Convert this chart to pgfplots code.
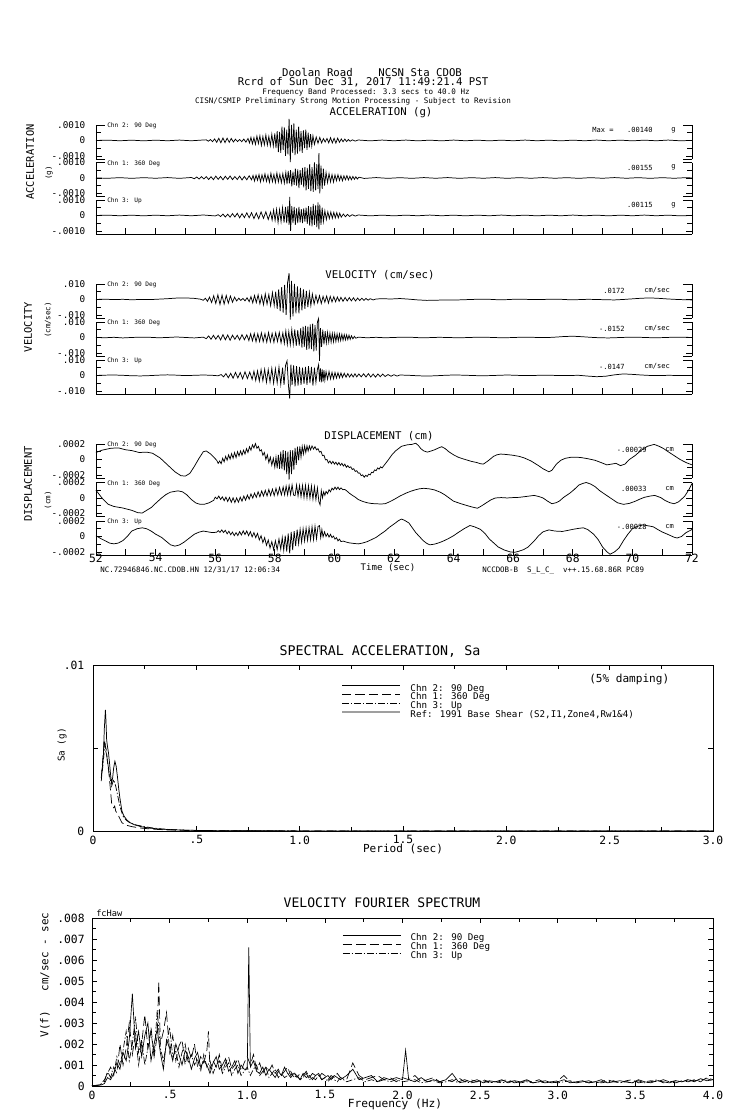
\documentclass[border=0pt]{standalone}
\usepackage{fontspec}
\setmainfont{DejaVu Sans Mono}
\usepackage{pgfplots}
\pgfplotsset{compat=1.18}
\newcommand\fs[1]{\fontsize{#1}{#1}\selectfont}
\pgfplotsset{
  /pgf/number format/assume math mode=true,
  ts/.style={scale only axis, width=447pt, height=25.5pt, xmin=52, xmax=72, ymin=-12, ymax=10, clip=false,
    axis line style={line width=0.6pt}, tick style={black, line width=0.5pt},
    major tick length=4.5pt, minor tick length=3.5pt, tick align=inside,
    ytick={-10,0,10}, minor ytick={-5,5}, ytick pos=both, yticklabel pos=left,
    tick label style={font=\fs{7}}, yticklabel style={xshift=-4.5pt}},
  tstop/.style={ts, hide x axis},
  tsbot/.style={ts, axis x line*=bottom, x axis line style={-}, xtick={52,53,...,72}, tick align=inside, xticklabel=\mbox{}},
  tr/.style={black, line width=0.55pt},
  sp/.style={scale only axis, clip=false, axis line style={line width=0.6pt}, tick style={black, line width=0.5pt},
    major tick length=4pt, minor tick length=3pt, tick align=inside, xtick pos=both, ytick pos=both,
    xticklabel pos=left, yticklabel pos=left, tick label style={font=\fs{8.5}},
    legend style={draw=none, fill=none, inner sep=0pt, row sep=0pt, font=\fs{6.9},
      nodes={inner sep=0.6pt, text height=4.4pt, text depth=1pt}},
    legend cell align=left,
    legend image code/.code={\draw[##1] (0pt,2.2pt) -- (43.5pt,2.2pt); \path (50pt,2.2pt);}},
}
\begin{document}
\begin{tikzpicture}[x=0.75pt,y=-0.75pt]
\path[use as bounding box] (0,0) rectangle (739,1115);
% ---------------- ACCELERATION ----------------
\begin{axis}[tstop, at={(72pt,-93.75pt)}, anchor=north west, yticklabels={-.0010,0,.0010}]
\addplot[tr] coordinates {(52,0)(52.4,0.2)(52.8,-0.2)(53.2,0.2)(53.6,-0.25)(54.0,0.2)(54.4,-0.2)(54.8,0.25)(55.2,-0.2)(55.6,0.3)
(55.7,0.4)(55.77,-0.5)(55.84,0.6)(55.91,-0.8)(55.98,1.0)(56.05,-1.2)(56.12,1.4)(56.19,-1.5)(56.26,1.6)(56.33,-1.4)(56.40,1.5)(56.47,-1.2)(56.54,1.3)(56.61,-1.0)(56.68,0.8)(56.75,-0.7)(56.82,0.6)(56.89,-0.8)(56.96,0.9)(57.03,-1.1)(57.10,1.3)
(57.15,-1.6)(57.2,2.0)(57.25,-2.2)(57.3,1.8)(57.35,-2.5)(57.4,2.8)(57.45,-2.0)(57.5,3.0)(57.55,-3.2)(57.6,2.5)(57.65,-2.8)(57.7,3.5)(57.75,-3.0)(57.8,2.6)(57.85,-3.4)(57.9,4.0)(57.95,-3.6)(58.0,4.5)
(58.04,-5)(58.08,6)(58.12,-7.5)(58.16,5.5)(58.2,-8)(58.24,9)(58.28,-6)(58.32,8.5)(58.36,-10)(58.4,7)(58.44,-9)(58.48,14)(58.52,-14)(58.56,10)(58.6,-8)(58.64,11)(58.68,-9.5)(58.72,7)(58.76,-8.5)(58.8,9)(58.84,-7)(58.88,6)(58.92,-8)(58.96,6.5)(59.0,-5)(59.04,7)(59.08,-6)(59.12,5)(59.16,-4.5)(59.2,4)(59.24,-3.5)(59.28,3)
(59.33,-2.5)(59.39,2.2)(59.45,-1.8)(59.51,2.0)(59.57,-1.6)(59.63,1.2)(59.69,-1.0)(59.75,1.3)(59.81,-1.5)(59.87,1.8)(59.93,-1.6)(59.99,1.4)(60.05,-1.7)(60.11,1.5)(60.17,-1.2)(60.23,1.0)(60.29,-0.8)(60.35,0.9)(60.41,-0.7)(60.47,0.6)(60.53,-0.5)(60.6,0.4)(60.7,-0.4)(60.8,0.3)
(61.2,-0.25)(61.6,0.25)(62.0,-0.2)(62.4,0.25)(62.8,-0.25)(63.2,0.2)(63.6,-0.25)(64.0,0.25)(64.4,-0.2)(64.8,0.2)(65.2,-0.25)(65.6,0.2)(66.0,-0.2)(66.4,0.25)(66.8,-0.2)(67.2,0.2)(67.6,-0.25)(68.0,0.2)(68.4,-0.2)(68.8,0.25)(69.2,-0.2)(69.6,0.2)(70.0,-0.25)(70.4,0.2)(70.8,-0.2)(71.2,0.25)(71.6,-0.2)(72,0)};
\end{axis}
\begin{axis}[tstop, at={(72pt,-121.875pt)}, anchor=north west, yticklabels={-.0010,0,.0010}]
\addplot[tr] coordinates {(52,0)(52.4,-0.2)(52.8,0.2)(53.2,-0.25)(53.6,0.2)(54.0,-0.2)(54.4,0.25)(54.8,-0.25)(55.2,0.3)
(55.3,-0.5)(55.38,0.6)(55.46,-0.7)(55.54,0.8)(55.62,-0.6)(55.7,0.9)(55.78,-1.0)(55.86,0.8)(55.94,-1.1)(56.02,1.2)(56.1,-0.9)(56.18,1.0)(56.26,-1.2)(56.34,1.1)(56.42,-0.9)(56.5,1.3)(56.58,-1.1)(56.66,0.9)(56.74,-1.0)(56.82,1.2)(56.9,-1.3)(56.98,1.0)(57.06,-1.2)(57.14,1.4)(57.22,-1.2)
(57.27,1.6)(57.32,-2.0)(57.37,1.8)(57.42,-1.5)(57.47,2.2)(57.52,-2.5)(57.57,2.0)(57.62,-1.8)(57.67,2.6)(57.72,-2.2)(57.77,1.9)(57.82,-2.8)(57.87,3.0)(57.92,-2.4)(57.97,2.2)(58.02,-2.9)(58.07,3.2)(58.12,-2.6)(58.17,2.4)(58.22,-3.0)(58.27,2.8)(58.32,-3.3)(58.37,3.6)
(58.41,-4)(58.45,4.5)(58.49,-3.5)(58.53,5)(58.57,-5.5)(58.61,4)(58.65,-4.5)(58.69,6)(58.73,-5)(58.77,5.5)(58.81,-6.5)(58.85,5)(58.89,-4.5)(58.93,6.5)(58.97,-6)
(59.01,7)(59.05,-8)(59.09,6.5)(59.13,-7)(59.17,9)(59.21,-8.5)(59.25,7)(59.29,-9)(59.33,10)(59.37,-8)(59.41,9)(59.45,-7)(59.48,16)(59.51,-10)(59.55,8)(59.59,-7)(59.63,6)(59.67,-5)
(59.72,3.5)(59.77,-3)(59.82,2.8)(59.87,-2.5)(59.92,2.2)(59.97,-2.6)(60.02,2.0)(60.07,-1.8)(60.12,2.1)(60.17,-1.6)(60.22,1.5)(60.27,-1.8)(60.32,1.4)(60.37,-1.2)(60.42,1.5)(60.47,-1.3)(60.52,1.1)(60.57,-1.2)(60.62,1.0)(60.67,-0.9)(60.72,0.8)(60.77,-0.7)(60.82,0.5)
(61.0,-0.3)(61.4,0.25)(61.8,-0.25)(62.2,0.2)(62.6,-0.25)(63.0,0.25)(63.4,-0.2)(63.8,0.25)(64.2,-0.25)(64.6,0.2)(65.0,-0.2)(65.4,0.25)(65.8,-0.25)(66.2,0.2)(66.6,-0.2)(67.0,0.25)(67.4,-0.2)(67.8,0.2)(68.2,-0.25)(68.6,0.2)(69.0,-0.2)(69.4,0.25)(69.8,-0.2)(70.2,0.2)(70.6,-0.25)(71.0,0.2)(71.4,-0.2)(71.8,0.2)(72,0)};
\end{axis}
\begin{axis}[tsbot, at={(72pt,-150pt)}, anchor=north west, yticklabels={-.0010,0,.0010}]
\addplot[tr] coordinates {(52,0)(52.4,0.2)(52.8,-0.2)(53.2,0.2)(53.6,-0.25)(54.0,0.2)(54.4,-0.2)(54.8,0.25)(55.2,-0.2)(55.6,0.3)(56.0,-0.3)
(56.1,0.5)(56.18,-0.7)(56.26,0.9)(56.34,-1.0)(56.42,0.8)(56.5,-1.1)(56.58,1.2)(56.66,-1.0)(56.74,1.4)(56.82,-1.5)(56.9,1.2)(56.98,-1.4)(57.06,1.7)(57.14,-1.5)(57.22,1.8)(57.3,-2.0)(57.38,1.6)(57.46,-2.1)(57.54,2.3)(57.62,-1.9)(57.7,2.4)(57.78,-2.6)(57.86,2.2)
(57.91,-3)(57.96,3.5)(58.01,-3.2)(58.06,4)(58.11,-4.5)(58.16,3.8)(58.21,-4)(58.26,5)(58.31,-4.6)(58.36,5.5)(58.4,-5)(58.44,6)(58.48,-6)(58.5,12)(58.53,-10)(58.57,6)(58.61,-5)(58.65,5.5)(58.69,-6)(58.73,4.5)(58.77,-5)(58.81,5.5)(58.85,-4.5)(58.89,4)(58.93,-5)(58.97,4.5)(59.01,-4)(59.05,5)
(59.09,-5.5)(59.13,6)(59.17,-6.5)(59.21,5.5)(59.25,-7)(59.29,7.5)(59.33,-6)(59.37,6.5)(59.41,-7.5)(59.45,8.5)(59.48,-9)(59.51,7)(59.55,-6)(59.59,5)(59.63,-4)
(59.68,3)(59.73,-2.6)(59.78,2.4)(59.83,-2.0)(59.88,2.2)(59.93,-1.8)(59.98,2.0)(60.03,-1.6)(60.08,1.8)(60.13,-1.5)(60.18,1.4)(60.23,-1.1)(60.3,0.9)(60.37,-0.8)(60.44,0.7)(60.51,-0.6)(60.6,0.5)(60.7,-0.4)(60.8,0.3)
(61.2,-0.25)(61.6,0.2)(62.0,-0.25)(62.4,0.2)(62.8,-0.2)(63.2,0.25)(63.6,-0.2)(64.0,0.2)(64.4,-0.25)(64.8,0.2)(65.2,-0.2)(65.6,0.25)(66.0,-0.2)(66.4,0.2)(66.8,-0.25)(67.2,0.2)(67.6,-0.2)(68.0,0.25)(68.4,-0.2)(68.8,0.2)(69.2,-0.25)(69.6,0.2)(70.0,-0.2)(70.4,0.25)(70.8,-0.2)(71.2,0.2)(71.6,-0.25)(72,0)};
\end{axis}
% ---------------- VELOCITY ----------------
\begin{axis}[tstop, at={(72pt,-213pt)}, anchor=north west, yticklabels={-.010,0,.010}]
\addplot[tr] coordinates {(52,0)(52.3,0.2)(52.6,-0.1)(52.9,0.1)(53.2,-0.2)(53.5,0)(53.8,-0.1)(54.1,0.2)(54.4,0.5)(54.7,0.9)(55.0,1.0)(55.3,0.7)(55.5,0.2)
(55.6,-0.5)(55.67,0.8)(55.74,-1.2)(55.81,1.5)(55.88,-2.0)(55.95,2.4)(56.02,-2.6)(56.09,3.0)(56.16,-3.2)(56.23,2.8)(56.3,-3.0)(56.37,2.6)(56.44,-2.4)(56.51,2.2)(56.58,-1.8)(56.65,1.5)(56.72,-1.0)(56.79,0.8)(56.86,-0.6)(56.93,0.7)(57.0,-0.9)(57.07,1.1)(57.14,-1.4)
(57.2,1.8)(57.26,-2.2)(57.32,2.6)(57.38,-2.0)(57.44,3.0)(57.5,-2.8)(57.56,2.4)(57.62,-3.4)(57.68,3.6)(57.74,-3.0)(57.8,3.2)(57.86,-4.0)(57.92,4.4)(57.98,-3.8)
(58.03,5)(58.08,-6)(58.13,6.5)(58.18,-7.5)(58.23,8)(58.28,-8.5)(58.33,9.5)(58.38,-10)(58.43,11)(58.48,17)(58.52,-13)(58.56,12)(58.61,-11)(58.66,10)(58.71,-9)(58.76,8.5)(58.81,-9)(58.86,7.5)(58.91,-7)(58.96,6.5)(59.01,-6)(59.06,5.5)(59.11,-5)(59.16,4.5)(59.21,-4)(59.26,3.5)
(59.32,-3)(59.38,2.6)(59.44,-2.2)(59.5,2.4)(59.56,-2.6)(59.62,2.0)(59.68,-1.8)(59.74,2.2)(59.8,-2.4)(59.86,2.0)(59.92,-1.6)(59.98,1.8)(60.04,-1.5)(60.1,1.6)(60.16,-1.2)(60.22,1.4)
(60.29,-1.2)(60.36,1.3)(60.43,-1.0)(60.5,1.2)(60.57,-0.9)(60.64,1.1)(60.71,-1.0)(60.78,0.9)(60.85,-0.7)(60.92,0.8)(60.99,-0.6)(61.06,0.7)(61.13,-0.5)(61.2,0.5)(61.3,-0.3)(61.4,0.3)
(61.6,0.5)(61.9,0.3)(62.2,0.6)(62.5,0.2)(62.8,-0.3)(63.1,-0.6)(63.4,-0.5)(63.7,-0.3)(64.0,-0.4)(64.3,-0.2)(64.6,0)(64.9,0.2)(65.2,0.1)(65.5,-0.2)(65.8,-0.1)(66.1,0.2)(66.4,0.1)(66.7,-0.1)(67.0,0)(67.3,0.2)(67.6,0.1)(67.9,-0.2)(68.2,-0.1)(68.5,0.1)(68.8,0)(69.1,-0.2)(69.4,-0.3)(69.7,0)(70.0,0.4)(70.3,0.8)(70.6,1.0)(70.9,0.7)(71.2,0.3)(71.5,0)(71.8,-0.2)(72,-0.3)};
\end{axis}
\begin{axis}[tstop, at={(72pt,-241.5pt)}, anchor=north west, yticklabels={-.010,0,.010}]
\addplot[tr] coordinates {(52,0)(52.3,-0.2)(52.6,0.1)(52.9,-0.3)(53.2,0)(53.5,0.2)(53.8,0.1)(54.1,-0.2)(54.4,0)(54.7,0.3)(55.0,0)(55.3,-0.3)(55.6,0.2)
(55.7,-0.8)(55.78,1.0)(55.86,-1.2)(55.94,1.4)(56.02,-1.1)(56.1,1.3)(56.18,-1.6)(56.26,1.8)(56.34,-1.5)(56.42,1.6)(56.5,-1.8)(56.58,1.5)(56.66,-1.2)(56.74,1.4)(56.82,-1.6)(56.9,1.8)(56.98,-1.5)(57.06,1.7)
(57.13,-2.0)(57.19,2.4)(57.25,-2.2)(57.31,2.6)(57.37,-2.8)(57.43,2.4)(57.49,-2.6)(57.55,3.0)(57.61,-2.7)(57.67,2.5)(57.73,-3.0)(57.79,3.2)(57.85,-2.8)(57.91,2.6)(57.97,-3.2)(58.03,3.0)(58.09,-2.6)(58.15,3.3)(58.21,-3.5)(58.27,3.0)
(58.32,-3.8)(58.37,4.2)(58.42,-4.5)(58.47,3.8)(58.52,-4.6)(58.57,5.0)(58.62,-4.4)(58.67,5.2)(58.72,-5.5)(58.77,4.8)(58.82,-5.2)(58.87,6.0)
(58.91,-6.5)(58.95,7)(58.99,-6)(59.03,7.5)(59.07,-8)(59.11,7)(59.15,-7.5)(59.19,8.5)(59.23,-7.5)(59.27,9)(59.31,-9)(59.35,8)(59.39,-8.5)(59.43,10)(59.47,12.3)(59.5,-15.2)(59.53,6)(59.57,-6)(59.61,5)(59.65,-4.5)(59.69,4)
(59.73,-3.5)(59.77,3.2)(59.81,-3.0)(59.85,2.8)(59.89,-3.0)(59.93,2.6)(59.97,-2.8)(60.01,2.5)(60.05,-2.6)(60.09,2.4)(60.13,-2.2)(60.17,2.3)(60.21,-2.0)(60.25,2.1)(60.29,-1.8)(60.33,1.9)(60.37,-1.6)(60.41,1.7)(60.45,-1.4)(60.49,1.5)(60.53,-1.2)(60.57,1.1)(60.62,-0.9)(60.67,0.7)(60.72,-0.5)
(60.8,0.2)(61.1,-0.2)(61.4,0.1)(61.7,-0.2)(62.0,0)(62.3,0.2)(62.6,0.1)(62.9,-0.2)(63.2,-0.1)(63.5,0.1)(63.8,0)(64.1,-0.2)(64.4,-0.1)(64.7,0.1)(65.0,0.2)(65.3,0)(65.6,-0.2)(65.9,-0.1)(66.2,0.1)(66.5,0.2)(66.8,0)(67.1,-0.1)(67.4,0.2)(67.7,0.6)(68.0,0.8)(68.3,0.5)(68.6,0.1)(68.9,-0.2)(69.2,-0.3)(69.5,-0.1)(69.8,0.1)(70.1,0.2)(70.4,0)(70.7,-0.2)(71.0,-0.1)(71.3,0.1)(71.6,0.2)(72,0)};
\end{axis}
\begin{axis}[tsbot, at={(72pt,-270pt)}, anchor=north west, yticklabels={-.010,0,.010}]
\addplot[tr] coordinates {(52,0)(52.3,0.2)(52.6,0.3)(52.9,0.1)(53.2,-0.2)(53.5,-0.3)(53.8,-0.1)(54.1,0.2)(54.4,0.4)(54.7,0.2)(55.0,-0.1)(55.3,0.1)(55.6,0.3)(55.9,0.1)(56.1,-0.2)
(56.2,0.6)(56.28,-0.9)(56.36,1.2)(56.44,-1.5)(56.52,1.4)(56.6,-1.8)(56.68,2.0)(56.76,-1.6)(56.84,1.9)(56.92,-2.2)(57.0,2.4)(57.08,-2.0)(57.16,2.2)(57.24,-2.5)
(57.3,2.8)(57.36,-3.2)(57.42,3.0)(57.48,-3.6)(57.54,3.8)(57.6,-3.4)(57.66,4.0)(57.72,-4.4)(57.78,3.8)(57.84,-4.2)(57.9,4.6)(57.96,-5.0)(58.02,4.4)(58.08,-4.8)(58.14,5.4)(58.2,-5.8)(58.26,5.0)
(58.31,-6)(58.36,6.5)(58.41,9.4)(58.46,-7)(58.5,-15)(58.54,7)(58.58,-6)(58.63,6.5)(58.68,-7)(58.73,6)(58.78,-6.5)(58.83,5.5)(58.88,-6)(58.93,5)(58.98,-5.5)(59.03,5.5)(59.08,-6)(59.13,6)(59.18,-5)(59.23,5.5)(59.28,-6.5)(59.33,5)(59.38,-4.5)(59.43,4)(59.47,7)(59.5,-4)(59.53,4.5)(59.56,-4.5)(59.59,4)(59.62,-4)(59.65,3.5)(59.68,-3)
(59.72,2.5)(59.77,-2.4)(59.82,2.6)(59.87,-2.2)(59.92,2.0)(59.97,-2.2)(60.02,1.9)(60.07,-1.7)(60.12,1.8)(60.17,-1.5)(60.22,1.6)(60.27,-1.3)(60.33,1.4)(60.39,-1.1)(60.45,1.2)(60.51,-1.0)(60.57,0.9)(60.63,-1.0)(60.69,1.1)(60.75,-0.9)
(60.82,1.0)(60.9,-0.9)(60.98,1.1)(61.06,-1.0)(61.14,1.2)(61.22,-1.0)(61.3,0.9)(61.38,-1.1)(61.46,1.0)(61.54,-0.8)(61.62,0.9)(61.7,-0.7)(61.8,0.6)(61.9,-0.5)(62.0,0.5)(62.1,-0.4)(62.2,0.3)
(62.5,0.1)(62.8,-0.2)(63.1,-0.4)(63.4,-0.2)(63.7,0.1)(64.0,0.3)(64.3,0.2)(64.6,0)(64.9,-0.2)(65.2,-0.1)(65.5,0.1)(65.8,0.3)(66.1,0.1)(66.4,-0.1)(66.7,0)(67.0,0.2)(67.3,0.1)(67.6,-0.1)(67.9,0)(68.2,0.1)(68.5,-0.4)(68.8,-0.8)(69.1,-0.5)(69.4,0.4)(69.7,1.0)(70.0,0.7)(70.3,0.3)(70.6,0)(70.9,-0.1)(71.2,0.1)(71.5,0)(71.8,-0.1)(72,0)};
\end{axis}
% ---------------- DISPLACEMENT ----------------
\begin{axis}[tstop, at={(72pt,-333pt)}, anchor=north west, ymin=-24, ymax=20, ytick={-20,0,20}, minor ytick={-10,10}, yticklabels={-.0002,0,.0002}]
\addplot[tr] coordinates {(52,9)(52.2,12)(52.5,14.5)(52.75,15)(53.0,12.5)(53.2,11.5)(53.45,9)(53.7,9.5)(53.9,8)(54.15,2)(54.4,-7)(54.65,-16)(54.85,-21)(55.0,-21.5)(55.15,-18)(55.3,-9)(55.45,1)(55.6,10)(55.7,11)(55.85,7)(56.0,1)
(56.05,-1)(56.10,-5)(56.15,-2)(56.20,-5.5)(56.25,1.5)(56.30,-3)(56.35,4)(56.40,-1)(56.45,6)(56.50,0.5)(56.55,7.5)(56.60,1.5)(56.65,9)(56.70,2.5)(56.75,10)(56.80,4.5)(56.85,11)(56.90,5.5)(56.95,12)(57.00,7)(57.05,14)(57.10,9)(57.15,16.5)(57.20,12)(57.25,19)(57.30,15)(57.35,20.5)(57.40,14.5)(57.45,17)(57.50,11)(57.55,12.5)(57.60,5.5)(57.65,9)(57.70,0)(57.75,6)(57.80,-4)(57.85,3)(57.90,-7.5)(57.95,1.5)(58.00,-10)
(58.04,3)(58.08,-11.5)(58.12,6)(58.16,-12)(58.20,10)(58.24,-12.5)(58.28,12)(58.32,-14)(58.36,11)(58.40,-19)(58.44,10)(58.48,-26)(58.52,12)(58.56,-19)(58.60,12)(58.64,-13)(58.68,15)(58.72,-7)(58.76,16.5)(58.80,-1)(58.84,17)(58.88,3)(58.92,17)(58.96,7)(59.00,17.5)(59.04,9)(59.08,17.5)(59.12,11)(59.16,17.5)(59.20,12.5)(59.25,17.5)(59.30,13.5)(59.35,16.5)(59.40,12.5)(59.45,14)(59.50,9.5)(59.55,10.5)(59.60,5)(59.65,5.5)(59.70,-0.5)(59.75,0)(59.80,-4.5)(59.85,-2)(59.90,-5.5)(59.95,-2.5)(60.00,-6)(60.05,-3.5)(60.10,-7)(60.15,-4)(60.20,-7.5)(60.25,-5)(60.30,-8.5)(60.35,-6)(60.40,-10)(60.45,-8)(60.50,-10.6)(60.55,-9.5)(60.60,-13)(60.65,-12)(60.70,-15.5)(60.75,-14.5)(60.80,-17.7)(60.85,-17.5)(60.90,-21)(60.95,-20)(61.00,-23)(61.05,-20.5)(61.10,-22)(61.15,-19)(61.20,-20)(61.25,-16.5)(61.30,-17)(61.35,-13.5)(61.40,-14.5)(61.45,-11)(61.50,-12.5)(61.55,-9.5)(61.60,-11)
(61.7,-6)(61.8,-1)(61.93,6)(62.05,11)(62.25,17)(62.45,19)(62.6,19.5)(62.73,21)(62.82,18)(62.9,14)(63.0,11)(63.12,9.5)(63.25,11)(63.36,12.5)(63.5,15)(63.6,16.5)(63.72,14)(63.84,10)(64.0,6)(64.15,3)(64.3,1)(64.47,-1)(64.6,-2.5)(64.78,-4)(64.9,-5.5)(65.0,-6)(65.15,-2)(65.34,4)(65.45,6)(65.58,7)(65.75,6.5)(65.98,5.5)(66.2,4)(66.37,2)(66.6,-2)(66.85,-8)(67.0,-12)(67.2,-16)(67.3,-14)(67.45,-6)(67.6,-1)(67.75,1.5)(67.96,3)(68.1,3)(68.27,2.5)(68.5,1)(68.74,-1)(68.95,-4)(69.14,-7)(69.3,-6)(69.45,-5)(69.6,-8)(69.75,-6)(69.9,0)(70.09,5)(70.3,12)(70.5,17)(70.73,19.5)(70.9,17)(71.05,14)(71.2,10)(71.4,5)(71.6,0)(71.8,-4)(72,-7)};
\end{axis}
\begin{axis}[tstop, at={(72pt,-361.875pt)}, anchor=north west, ymin=-24, ymax=20, ytick={-20,0,20}, minor ytick={-10,10}, yticklabels={-.0002,0,.0002}]
\addplot[tr] coordinates {(52,10)(52.1,5)(52.2,0)(52.4,-8)(52.6,-11)(52.9,-13)(53.2,-16)(53.4,-19)(53.55,-19.5)(53.7,-16)(53.85,-12.5)(54.0,-7)(54.2,0)(54.35,4.5)(54.5,7.5)(54.75,9.2)(54.9,8)(55.05,4)(55.2,-2)(55.35,-6.5)(55.5,-8.3)(55.65,-8)(55.8,-6.2)(55.95,-3)
(56.00,1)(56.06,-1.2)(56.12,2.5)(56.18,-2)(56.24,1.5)(56.30,-3.5)(56.36,1)(56.42,-4.5)(56.48,0.7)(56.54,-5.6)(56.60,0.2)(56.66,-6)(56.72,0)(56.78,-5.5)(56.84,1)(56.90,-4.2)(56.96,2.5)(57.02,-3)(57.08,3.8)(57.14,-1.5)(57.20,5.2)(57.26,-0.2)(57.32,6.3)(57.38,0.8)(57.44,8)(57.50,1.5)(57.56,9.1)(57.62,2.5)(57.68,9.8)(57.74,2.6)(57.80,11)(57.86,3.2)(57.92,11.4)(57.98,3)(58.04,12.5)(58.10,3.8)(58.16,13.7)(58.22,4)(58.28,14.2)(58.33,4)(58.38,15.3)(58.43,4)(58.48,16.2)(58.53,4.4)(58.58,16.9)(58.63,3.8)(58.68,3)(58.73,16.8)(58.78,2.5)(58.83,16.2)(58.88,1.5)(58.93,16.3)(58.98,0.5)(59.03,16.2)(59.08,0)(59.13,15.8)(59.18,-0.4)(59.23,15.5)(59.28,-1.5)(59.33,14.5)(59.38,-2)(59.43,13)(59.48,-5)(59.52,-9)(59.56,9.5)(59.60,0.2)(59.64,8)(59.68,3.3)(59.72,8.5)(59.77,5.5)(59.82,10.7)(59.87,8)(59.92,12.7)(59.97,10.5)(60.02,14)(60.07,11.1)(60.12,14)(60.17,10.8)(60.22,13)(60.28,10.7)
(60.35,11)(60.42,9)(60.5,6.2)(60.6,3.5)(60.7,1)(60.8,-2)(60.95,-4.5)(61.1,-6.2)(61.25,-7.2)(61.4,-7.5)(61.55,-7.8)(61.7,-7.5)(61.85,-5)(62.0,-2)(62.2,2.5)(62.4,6.2)(62.55,8.5)(62.7,10.4)(62.85,11.8)(63.0,12.5)(63.18,11.8)(63.36,10.4)(63.55,7.5)(63.7,4.2)(63.85,0)(64.0,-4.2)(64.25,-7.5)(64.5,-10.4)(64.65,-12)(64.8,-13.3)(64.95,-10)(65.1,-6.2)(65.25,-2.5)(65.4,0)(65.6,0.5)(65.8,0)(66.0,0.5)(66.2,0.8)(66.45,2)(66.7,3.3)(66.85,2)(67.0,0)(67.15,-4)(67.3,-7.5)(67.45,-6)(67.55,-4)(67.7,1)(67.9,6.2)(68.05,11)(68.2,16.7)(68.35,19)(68.45,20)(68.6,18)(68.75,14.6)(68.9,9.5)(69.1,4.2)(69.3,-1)(69.5,-6.2)(69.7,-8.3)(69.9,-7)(70.1,-4.2)(70.25,-1.5)(70.4,0.8)(70.6,2.5)(70.75,3.3)(70.95,0.5)(71.1,-3.3)(71.25,-6)(71.4,-7.5)(71.55,-5)(71.75,2)(71.9,11)(72,18.7)};
\end{axis}
\begin{axis}[tsbot, at={(72pt,-390.75pt)}, anchor=north west, ymin=-24, ymax=20, ytick={-20,0,20}, minor ytick={-10,10}, yticklabels={-.0002,0,.0002},
  xticklabels={52,{},54,{},56,{},58,{},60,{},62,{},64,{},66,{},68,{},70,{},72}, x tick label style={font=\fs{8.5}, yshift=4.5pt}]
\addplot[tr] coordinates {(52,1)(52.15,-2.5)(52.3,-5.4)(52.45,-8.5)(52.6,-9.6)(52.75,-8.5)(52.9,-5.4)(53.05,0)(53.2,7)(53.38,10)(53.55,11.2)(53.7,10)(53.85,7)(54.0,3)(54.2,-1.2)(54.35,-6)(54.5,-10.8)(54.65,-12.5)(54.8,-11)(54.95,-7.5)(55.1,-3)(55.3,2.9)(55.45,5.5)(55.6,7)(55.75,6)(55.9,5)(56.05,5.5)
(56.10,7.5)(56.16,5.3)(56.22,8.5)(56.28,5.1)(56.34,8)(56.40,3.4)(56.46,6.8)(56.52,2.2)(56.58,5.6)(56.64,1.1)(56.70,4.9)(56.76,1.2)(56.82,6.3)(56.88,1.9)(56.94,7.3)(57.00,2.5)(57.06,7.1)(57.12,1)(57.18,6.2)(57.24,-0.5)(57.30,5)(57.36,-1.5)(57.42,4)(57.48,-4.5)(57.54,1)(57.60,-8)(57.66,-1.5)(57.72,-11.5)(57.78,-4.5)(57.84,-15)(57.90,-6.7)(57.96,-17)(58.02,-5.5)(58.08,-17)(58.14,-3.2)(58.20,-16.6)(58.25,-1.3)(58.30,-18)(58.35,1.2)(58.40,-19.5)(58.45,3.8)(58.50,-22)(58.55,6)(58.60,-17.5)(58.65,7)(58.70,-12.5)(58.75,8.8)(58.80,-9.5)(58.85,9.3)(58.90,-7.5)(58.95,10.1)(59.00,-5.8)(59.05,10.8)(59.10,-4.9)(59.15,11.4)(59.20,-4.2)(59.25,12.6)(59.30,-4.1)(59.35,13.2)(59.40,-3)(59.45,13)(59.50,14)(59.54,-1.5)(59.58,9)(59.62,-0.5)(59.67,6)(59.72,-0.1)(59.77,3.8)(59.82,-0.8)(59.87,2.8)(59.92,-1.5)(59.97,0.5)(60.02,-3.5)(60.07,-1.5)(60.12,-5.7)(60.17,-3.5)(60.22,-6.6)
(60.3,-6)(60.4,-7.3)(60.5,-8.3)(60.65,-9)(60.8,-9.6)(60.95,-8.5)(61.1,-6.7)(61.25,-4)(61.4,-1.2)(61.55,3)(61.7,7)(61.85,12)(62.05,17.5)(62.15,20.5)(62.25,22.5)(62.35,21)(62.5,17.5)(62.6,12)(62.73,5)(62.85,0)(62.98,-5.4)(63.1,-9)(63.2,-10.8)(63.35,-10)(63.5,-8.3)(63.65,-6)(63.8,-3.3)(64.0,1)(64.15,5)(64.35,10)(64.55,14.2)(64.7,12.5)(64.9,9.2)(65.05,4)(65.2,-3.3)(65.35,-8.5)(65.5,-13.7)(65.7,-17.5)(65.9,-20)(66.05,-20.5)(66.2,-19)(66.35,-17)(66.5,-13.7)(66.7,-6)(66.85,0.8)(67.0,6)(67.2,8.5)(67.4,7)(67.65,6.5)(67.85,8)(68.0,9.2)(68.2,10.5)(68.35,11.2)(68.5,9)(68.7,2.9)(68.85,-4)(69.0,-13.7)(69.15,-20)(69.25,-23)(69.4,-20)(69.55,-15)(69.7,-5.4)(69.85,3)(70.0,10)(70.2,13.5)(70.35,15)(70.5,14)(70.7,12.5)(70.85,9)(71.0,5.8)(71.2,2.5)(71.4,-1)(71.5,-2)(71.65,0)(71.8,5)(72,9)};
\end{axis}
% ---------------- SPECTRAL ACCELERATION ----------------
\begin{axis}[sp, at={(69.75pt,-498.75pt)}, anchor=north west, width=465pt, height=124.5pt,
  xmin=0, xmax=3, ymin=0, ymax=100, xtick={0,0.5,1,1.5,2,2.5,3}, xticklabels={0,.5,1.0,1.5,2.0,2.5,3.0}, minor x tick num=1,
  ytick={0,50,100}, yticklabels={0,{},.01}, yticklabel style={xshift=-3pt},
  legend style={at={(axis description cs:0.4,0.885)}, anchor=north west}]
\addplot[black, line width=0.55pt] coordinates {(0.04,30)(0.045,38)(0.05,45)(0.055,62)(0.06,73)(0.063,66)(0.066,55)(0.07,51)(0.075,47)(0.08,41)(0.085,34)(0.09,29)(0.095,32)(0.1,38)(0.106,42)(0.112,39)(0.118,33)(0.124,26)(0.13,20)(0.14,12)(0.15,9)(0.165,6.5)(0.18,5)(0.2,3.8)(0.23,2.7)(0.27,1.8)(0.32,1.2)(0.38,0.8)(0.45,0.5)(0.52,0.3)(0.6,0.2)(0.8,0.1)(1.2,0.05)(2,0.02)(3,0.01)};
\addlegendentry{Chn 2: 90 Deg}
\addplot[black, line width=0.55pt, dash pattern=on 7pt off 3pt] coordinates {(0.04,32)(0.045,40)(0.05,47)(0.055,55)(0.06,51)(0.064,49)(0.068,44)(0.072,40)(0.076,36)(0.08,31)(0.085,24)(0.09,17)(0.095,15)(0.1,14)(0.105,15)(0.11,12)(0.115,11)(0.12,10)(0.13,7.5)(0.14,5)(0.16,3.5)(0.19,2.6)(0.23,1.8)(0.28,1.2)(0.35,0.7)(0.43,0.4)(0.55,0.2)(0.8,0.08)(1.5,0.03)(3,0.01)};
\addlegendentry{Chn 1: 360 Deg}
\addplot[black, line width=0.55pt, dash pattern=on 5pt off 1.5pt on 1pt off 1.5pt] coordinates {(0.045,36)(0.05,42)(0.055,49)(0.058,53)(0.062,48)(0.066,46)(0.07,42)(0.075,38)(0.08,34)(0.085,30)(0.09,27)(0.095,29)(0.1,31)(0.105,29)(0.11,27)(0.12,21)(0.13,15)(0.145,9)(0.16,6.6)(0.18,4.8)(0.21,3.6)(0.25,2.6)(0.28,2)(0.32,1.4)(0.36,1)(0.42,0.6)(0.49,0.4)(0.6,0.2)(1,0.08)(2,0.03)(3,0.01)};
\addlegendentry{Chn 3: Up}
\addlegendimage{gray!75, line width=1.3pt}
\addlegendentry{Ref: 1991 Base Shear (S2,I1,Zone4,Rw1\&4)}
\end{axis}
% ---------------- VELOCITY FOURIER SPECTRUM ----------------
\begin{axis}[sp, at={(69pt,-688.5pt)}, anchor=north west, width=465.75pt, height=126pt,
  xmin=0, xmax=4, ymin=0, ymax=80, xtick={0,0.5,1,1.5,2,2.5,3,3.5,4}, xticklabels={0,.5,1.0,1.5,2.0,2.5,3.0,3.5,4.0}, minor x tick num=1,
  ytick={0,10,20,30,40,50,60,70,80}, yticklabels={0,.001,.002,.003,.004,.005,.006,.007,.008}, minor y tick num=1, yticklabel style={xshift=-2pt},
  legend style={at={(axis description cs:0.403,0.905)}, anchor=north west}]
\addplot[black, line width=0.5pt] coordinates {(0.00,0.1)(0.02,0.2)(0.04,0.3)(0.06,0.5)(0.08,1.2)(0.10,4)(0.12,3)(0.14,6)(0.16,11)(0.18,8)(0.20,16)(0.22,12)(0.24,22)(0.26,44)(0.28,18)(0.30,26)(0.32,14)(0.34,24)(0.36,30)(0.38,12)(0.40,20)(0.42,27)(0.44,16)(0.46,8)(0.48,22)(0.50,18)(0.52,12)(0.54,20)(0.56,15)(0.58,10)(0.60,17)(0.62,14)(0.64,8)(0.66,13)(0.68,16)(0.70,9)(0.72,12)(0.74,10)(0.76,6)(0.78,11)(0.80,14)(0.82,8)(0.84,10)(0.86,13)(0.88,7)(0.90,9)(0.92,12)(0.94,6)(0.96,10)(0.98,8)(1.00,8)(1.01,66)(1.02,9)(1.04,12)(1.06,7)(1.08,6)(1.10,9)(1.12,5)(1.14,8)(1.16,6)(1.18,4)(1.20,7)(1.22,5)(1.24,9)(1.26,6)(1.28,4)(1.30,6)(1.32,5)(1.34,3)(1.36,6)(1.38,4)(1.40,5)(1.42,3)(1.44,5)(1.46,6)(1.48,3)(1.50,4)(1.52,5)(1.54,3)(1.56,5)(1.58,4)(1.60,3)
(1.64,5)(1.68,8)(1.72,3)(1.76,4)(1.80,5)(1.84,2)(1.88,4)(1.92,3)(1.96,4)(2.00,3)(2.02,17)(2.04,3)(2.08,2)(2.12,4)(2.16,2)(2.20,3)(2.24,2)(2.28,3)(2.32,6)(2.36,2)(2.40,3)(2.44,2)(2.48,3)(2.52,1.5)(2.56,2.5)(2.60,2)(2.64,3)(2.68,1.5)(2.72,2.5)(2.76,2)(2.80,3)(2.84,1.5)(2.88,2)(2.92,2.5)(2.96,1.5)(3.00,2)(3.04,3)(3.08,1.5)(3.12,2)(3.16,2.5)(3.20,1.5)(3.24,2)(3.28,3)(3.32,1.5)(3.36,2)(3.40,2.5)(3.44,2)(3.48,1.5)(3.52,3)(3.56,2)(3.60,1.5)(3.64,2.5)(3.68,2)(3.72,1.5)(3.76,2.5)(3.80,2)(3.84,3)(3.88,2)(3.92,3.5)(3.96,2.5)(4.00,3)};
\addlegendentry{Chn 2: 90 Deg}
\addplot[black, line width=0.5pt, dash pattern=on 7pt off 3pt] coordinates {(0.00,0.1)(0.02,0.3)(0.04,0.4)(0.06,0.8)(0.08,2)(0.10,7)(0.12,4)(0.14,9)(0.16,6)(0.18,20)(0.20,10)(0.22,18)(0.24,30)(0.26,15)(0.28,25)(0.30,10)(0.32,20)(0.34,34)(0.36,18)(0.38,28)(0.40,14)(0.42,24)(0.43,50)(0.44,20)(0.46,26)(0.48,35)(0.50,16)(0.52,24)(0.54,12)(0.56,19)(0.58,22)(0.60,10)(0.62,18)(0.64,13)(0.66,20)(0.68,9)(0.70,14)(0.72,11)(0.74,17)(0.75,26)(0.76,8)(0.78,12)(0.80,9)(0.82,15)(0.84,7)(0.86,11)(0.88,14)(0.90,8)(0.92,10)(0.94,13)(0.96,7)(0.98,11)(1.00,14)(1.02,10)(1.04,15)(1.06,8)(1.08,11)(1.10,6)(1.12,9)(1.14,7)(1.16,10)(1.18,6)(1.20,8)(1.22,5)(1.24,7)(1.26,9)(1.28,5)(1.30,7)(1.32,4)(1.34,6)(1.36,5)(1.38,7)(1.40,4)(1.42,6)(1.44,5)(1.46,4)(1.48,6)(1.50,5)(1.52,3)(1.54,5)(1.56,4)(1.58,6)(1.60,4)
(1.64,3)(1.68,11)(1.72,5)(1.76,3)(1.80,4)(1.84,5)(1.88,3)(1.92,4)(1.96,2)(2.00,4)(2.04,3)(2.08,5)(2.12,2)(2.16,3)(2.20,4)(2.24,2)(2.28,3)(2.32,2)(2.36,4)(2.40,2)(2.44,3)(2.48,2)(2.52,3)(2.56,2)(2.60,1.5)(2.64,2.5)(2.68,3)(2.72,1.5)(2.76,2)(2.80,2.5)(2.84,2)(2.88,3)(2.92,1.5)(2.96,2)(3.00,2.5)(3.04,5)(3.08,2)(3.12,1.5)(3.16,2)(3.20,2.5)(3.24,1.5)(3.28,2)(3.32,3)(3.36,2)(3.40,1.5)(3.44,2.5)(3.48,3)(3.52,1.5)(3.56,2)(3.60,2.5)(3.64,2)(3.68,3)(3.72,2)(3.76,1.5)(3.80,2.5)(3.84,2)(3.88,3)(3.92,2)(3.96,4)(4.00,3)};
\addlegendentry{Chn 1: 360 Deg}
\addplot[black, line width=0.5pt, dash pattern=on 5pt off 1.5pt on 1pt off 1.5pt] coordinates {(0.00,0.1)(0.02,0.2)(0.04,0.5)(0.06,1)(0.08,3)(0.10,6)(0.12,9)(0.14,5)(0.16,14)(0.18,10)(0.20,17)(0.22,26)(0.24,12)(0.26,20)(0.28,33)(0.30,16)(0.32,22)(0.34,10)(0.36,18)(0.38,26)(0.40,14)(0.42,36)(0.44,18)(0.46,12)(0.48,20)(0.50,28)(0.52,14)(0.54,17)(0.56,9)(0.58,16)(0.60,20)(0.62,11)(0.64,15)(0.66,10)(0.68,13)(0.70,7)(0.72,15)(0.74,9)(0.76,12)(0.78,6)(0.80,10)(0.82,12)(0.84,6)(0.86,9)(0.88,11)(0.90,5)(0.92,8)(0.94,10)(0.96,5)(0.98,7)(1.00,9)(1.02,5)(1.04,8)(1.06,10)(1.08,5)(1.10,7)(1.12,9)(1.14,4)(1.16,6)(1.18,8)(1.20,4)(1.22,6)(1.24,4)(1.26,5)(1.28,7)(1.30,4)(1.32,5)(1.34,3)(1.36,4)(1.38,6)(1.40,3)(1.42,4)(1.44,3)(1.46,5)(1.48,3)(1.50,4)(1.52,2)(1.54,4)(1.56,3)(1.58,2)(1.60,4)
(1.64,2)(1.68,3)(1.72,4)(1.76,2)(1.80,3)(1.84,2)(1.88,3)(1.92,2)(1.96,3)(2.00,2)(2.04,2.5)(2.08,3)(2.12,1.5)(2.16,2)(2.20,2.5)(2.24,1.5)(2.28,2)(2.32,3)(2.36,1.5)(2.40,2)(2.44,1.5)(2.48,2)(2.52,2.5)(2.56,1.5)(2.60,2)(2.64,1.5)(2.68,2)(2.72,2.5)(2.76,1.5)(2.80,2)(2.84,1.5)(2.88,2)(2.92,1.5)(2.96,2)(3.00,1.5)(3.04,2)(3.08,2.5)(3.12,1.5)(3.16,2)(3.20,1.5)(3.24,2)(3.28,1.5)(3.32,2)(3.36,2.5)(3.40,1.5)(3.44,2)(3.48,1.5)(3.52,2.5)(3.56,1.5)(3.60,2)(3.64,3)(3.68,1.5)(3.72,2)(3.76,2.5)(3.80,2)(3.84,3)(3.88,2.5)(3.92,3)(3.96,3.5)(4.00,2.5)};
\addlegendentry{Chn 3: Up}
\end{axis}
% ---------------- bracket stubs of the time-series panels ----------------
\foreach \y in {125,159,162.5,196.5,200,284,318,322,356,360,444,478,482.5,516.5,521}
  \draw[line width=0.6pt] (96,\y) -- (105,\y) (692,\y) -- (683,\y);
% ---------------- TEXT ----------------
\node[font=\fs{8}] at (372,72.5) {Doolan Road\ \ \ \ NCSN Sta CDOB};
\node[font=\fs{8}] at (363,82) {Rcrd of Sun Dec 31, 2017 11:49:21.4 PST};
\node[font=\fs{5.7}] at (366,92.5) {Frequency Band Processed: 3.3 secs to 40.0 Hz};
\node[font=\fs{5.7}] at (353,101) {CISN/CSMIP Preliminary Strong Motion Processing - Subject to Revision};
\node[font=\fs{8}] at (381,113) {ACCELERATION (g)};
\node[font=\fs{8}] at (380,275.5) {VELOCITY (cm/sec)};
\node[font=\fs{8}] at (379,436) {DISPLACEMENT (cm)};
\node[font=\fs{7.8},rotate=90] at (30,162) {ACCELERATION};
\node[font=\fs{5.6},rotate=90] at (49,173) {(g)};
\node[font=\fs{7.8},rotate=90] at (28,327) {VELOCITY};
\node[font=\fs{5.6},rotate=90] at (48,320) {(cm/sec)};
\node[font=\fs{7.8},rotate=90] at (28,484) {DISPLACEMENT};
\node[font=\fs{5.6},rotate=90] at (48,500) {(cm)};
% channel labels
\foreach \T/\lab in {125/{Chn 2: 90 Deg},162.5/{Chn 1: 360 Deg},200/{Chn 3: Up},284/{Chn 2: 90 Deg},322/{Chn 1: 360 Deg},360/{Chn 3: Up},444/{Chn 2: 90 Deg},482.5/{Chn 1: 360 Deg},521/{Chn 3: Up}}
  \node[font=\fs{4.6},anchor=west,inner sep=0pt] at (107,\T+1) {\lab};
% right labels
\node[font=\fs{5.3},anchor=west,inner sep=0pt] at (592,130) {Max =};
\node[font=\fs{5.3},anchor=east,inner sep=0pt] at (653,130) {.00140};
\node[font=\fs{5.3},anchor=east,inner sep=0pt] at (653,167.5) {.00155};
\node[font=\fs{5.3},anchor=east,inner sep=0pt] at (653,205) {.00115};
\foreach \y in {130,167.5,205} \node[font=\fs{5.3},anchor=west,inner sep=0pt] at (671,\y) {g};
\node[font=\fs{5.3},anchor=east,inner sep=0pt] at (625,290.5) {.0172};
\node[font=\fs{5.3},anchor=east,inner sep=0pt] at (625,328.5) {-.0152};
\node[font=\fs{5.3},anchor=east,inner sep=0pt] at (625,366.5) {-.0147};
\foreach \y in {290.5,328.5,366.5} \node[font=\fs{5.3},anchor=west,inner sep=0pt] at (644,\y) {cm/sec};
\node[font=\fs{5.3},anchor=east,inner sep=0pt] at (647,450) {-.00029};
\node[font=\fs{5.3},anchor=east,inner sep=0pt] at (647,488.5) {.00033};
\node[font=\fs{5.3},anchor=east,inner sep=0pt] at (647,527) {-.00028};
\foreach \y in {450,488.5,527} \node[font=\fs{5.3},anchor=west,inner sep=0pt] at (665,\y) {cm};
% bottom of time series
\node[font=\fs{6.8}] at (388,567.5) {Time (sec)};
\node[font=\fs{5.6},anchor=west,inner sep=0pt] at (100,570.5) {NC.72946846.NC.CDOB.HN 12/31/17 12:06:34};
\node[font=\fs{5.6},anchor=west,inner sep=0pt] at (482,570.5) {NCCDOB-B\ \ S\_L\_C\_\ \ v++.15.68.86R PC89};
% spectral acceleration text
\node[font=\fs{10}] at (380,651) {SPECTRAL ACCELERATION, Sa};
\node[font=\fs{8.3},anchor=west,inner sep=0pt] at (589,679) {(5\% damping)};
\node[font=\fs{7},rotate=90] at (62,745) {Sa (g)};
\node[font=\fs{8.3}] at (403,849) {Period (sec)};
% velocity fourier spectrum text
\node[font=\fs{9.8}] at (382,903) {VELOCITY FOURIER SPECTRUM};
\node[font=\fs{6.5},anchor=west,inner sep=0pt] at (96,913) {fcHaw};
\node[font=\fs{8.2},rotate=90] at (45,975) {V(f)\ \ \ cm/sec - sec};
\node[font=\fs{8.4}] at (395,1104) {Frequency (Hz)};
\end{tikzpicture}
\end{document}
